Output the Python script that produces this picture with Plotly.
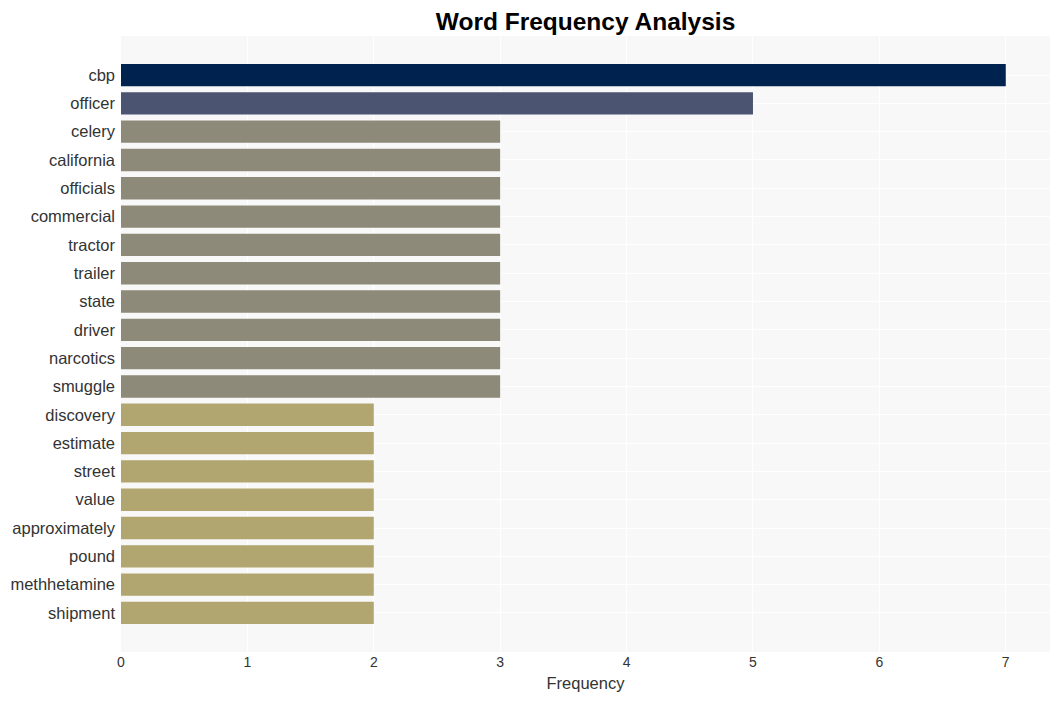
import plotly.graph_objects as go

# ─── Data ────────────────────────────────────────────────────────────────────

words = ['cbp', 'officer', 'celery', 'california', 'officials', 'commercial',
         'tractor', 'trailer', 'state', 'driver', 'narcotics', 'smuggle',
         'discovery', 'estimate', 'street', 'value', 'approximately', 'pound',
         'methhetamine', 'shipment']
counts = [7, 5, 3, 3, 3, 3, 3, 3, 3, 3, 3, 3, 2, 2, 2, 2, 2, 2, 2, 2]

# colour per frequency level (cividis-like)
LEVEL_COLORS = {7: '#00224e', 5: '#4b5470', 3: '#8e8a79', 2: '#b1a570'}

TEXT = '#333333'

fig = go.Figure(go.Bar(
    x=counts,
    y=words,
    orientation='h',
    marker=dict(color=[LEVEL_COLORS[c] for c in counts], line=dict(width=0)),
    hovertemplate='<b>%{y}</b><br>Frequency: %{x}<extra></extra>',
))

# page body has an 8px margin, so the figure is sized to fit inside it
fig.update_layout(
    width=1044,
    height=685,
    paper_bgcolor='white',
    plot_bgcolor='#f8f8f8',
    font=dict(family='Arial, Liberation Sans, sans-serif', color=TEXT),
    margin=dict(l=113, r=2, t=28, b=41),
    bargap=0.21,
    showlegend=False,
    title=dict(
        text='<b>Word Frequency Analysis</b>',
        font=dict(size=24.5, color='black'),
        x=0.5, xref='paper', xanchor='center',
        y=1 - 13 / 685, yref='container', yanchor='middle',
    ),
    xaxis=dict(
        range=[0, 7.35],
        dtick=1,
        showgrid=True,
        gridcolor='white',
        gridwidth=1,
        zeroline=False,
        tickfont=dict(size=14, color=TEXT),
        title=dict(text='Frequency', font=dict(size=16.5, color=TEXT), standoff=8),
    ),
    yaxis=dict(
        range=[len(words) - 1 + 1.38, -1.38],
        showgrid=True,
        gridcolor='white',
        tickfont=dict(size=16.5, color=TEXT),
        ticklabelstandoff=5,
    ),
)

fig.write_html('out.html')
